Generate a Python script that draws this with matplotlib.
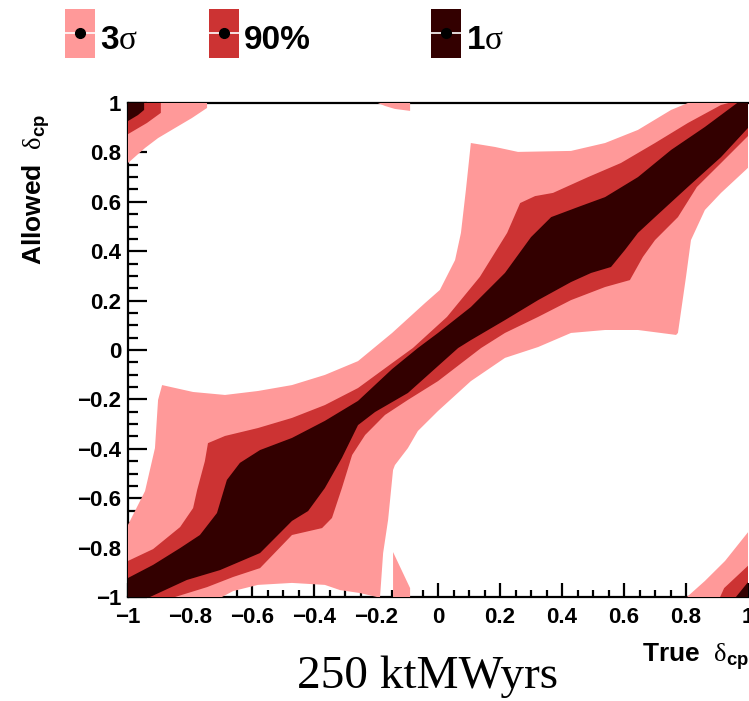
import matplotlib.pyplot as plt
from matplotlib.patches import Polygon, Rectangle
from matplotlib.ticker import MultipleLocator, FixedLocator, FixedFormatter

plt.rcParams['font.family'] = ['Liberation Sans', 'DejaVu Sans']
plt.rcParams['mathtext.fontset'] = 'custom'
plt.rcParams['mathtext.rm'] = 'Liberation Serif'
plt.rcParams['mathtext.bf'] = 'Liberation Sans:bold'

# confidence levels, drawn widest first
level_labels = [r'3$\mathrm{\sigma}$', '90%', r'1$\mathrm{\sigma}$']
level_colors = ['#ff9999', '#cc3333', '#330000']

# contour outlines: (true dcp, allowed dcp)
sigma3_band = [
    (-1.05, -1.05), (-1.05, -0.708), (-1.0, -0.708), (-0.945, -0.571), (-0.913, -0.397),
    (-0.903, -0.202), (-0.890, -0.142), (-0.790, -0.170), (-0.687, -0.182), (-0.581, -0.166),
    (-0.471, -0.142), (-0.365, -0.101), (-0.258, -0.045), (-0.148, 0.069), (-0.042, 0.190),
    (0.006, 0.243), (0.055, 0.364), (0.074, 0.474), (0.090, 0.648), (0.106, 0.838),
    (0.184, 0.822), (0.258, 0.802), (0.429, 0.806), (0.539, 0.838), (0.645, 0.891),
    (0.752, 0.972), (0.806, 1.0), (0.85, 1.05), (1.05, 1.05), (1.05, 0.79),
    (1.003, 0.741), (0.913, 0.636), (0.861, 0.567), (0.816, 0.445), (0.800, 0.296),
    (0.774, 0.069), (0.768, 0.061), (0.645, 0.081), (0.539, 0.081), (0.429, 0.069),
    (0.323, 0.012), (0.216, -0.032), (0.106, -0.126), (0.0, -0.247), (-0.065, -0.328),
    (-0.097, -0.397), (-0.139, -0.466), (-0.145, -0.486), (-0.161, -0.688), (-0.177, -0.822),
    (-0.187, -1.0), (-0.197, -1.0), (-0.252, -0.984), (-0.316, -0.972), (-0.365, -0.951),
    (-0.471, -0.943), (-0.581, -0.951), (-0.661, -0.976), (-0.697, -1.0), (-0.697, -1.05),
]
sigma3_top_left = [(-1.05, 1.05), (-0.745, 1.05), (-0.745, 0.980), (-0.794, 0.939), (-0.848, 0.899),
                   (-0.903, 0.858), (-0.945, 0.818), (-1.0, 0.757), (-1.05, 0.70)]
sigma3_top_mid = [(-0.194, 1.05), (-0.090, 1.05), (-0.090, 0.968), (-0.139, 0.976), (-0.171, 0.988),
                  (-0.194, 1.0)]
sigma3_bottom_mid = [(-0.145, -1.05), (-0.145, -0.818), (-0.090, -0.964), (-0.090, -1.05)]
sigma3_bottom_right = [(0.803, -1.05), (0.803, -1.0), (0.861, -0.935), (0.926, -0.854), (1.003, -0.733),
                       (1.05, -0.68), (1.05, -1.05)]

cl90_band = [
    (-1.05, -1.05), (-1.05, -0.854), (-1.0, -0.854), (-0.919, -0.806), (-0.832, -0.717),
    (-0.790, -0.640), (-0.777, -0.567), (-0.752, -0.450), (-0.742, -0.377), (-0.687, -0.348),
    (-0.581, -0.316), (-0.471, -0.275), (-0.365, -0.223), (-0.258, -0.154), (-0.148, -0.053),
    (-0.081, 0.008), (0.029, 0.134), (0.135, 0.296), (0.223, 0.474), (0.265, 0.595),
    (0.313, 0.623), (0.371, 0.636), (0.484, 0.700), (0.590, 0.757), (0.700, 0.838),
    (0.806, 0.919), (0.913, 0.992), (0.937, 1.0), (0.96, 1.05), (1.05, 1.05),
    (1.05, 0.93), (1.003, 0.870), (0.913, 0.757), (0.835, 0.660), (0.774, 0.538),
    (0.700, 0.445), (0.661, 0.377), (0.619, 0.283), (0.539, 0.255), (0.429, 0.202),
    (0.323, 0.134), (0.216, 0.069), (0.139, 0.008), (0.0, -0.126), (-0.097, -0.202),
    (-0.171, -0.263), (-0.235, -0.344), (-0.277, -0.425), (-0.310, -0.559), (-0.342, -0.680),
    (-0.374, -0.721), (-0.471, -0.749), (-0.574, -0.883), (-0.661, -0.919), (-0.745, -0.960),
    (-0.848, -1.0), (-0.848, -1.05),
]
cl90_top_left = [(-1.05, 1.05), (-0.894, 1.05), (-0.894, 0.960), (-0.939, 0.919), (-1.0, 0.874),
                 (-1.05, 0.84)]
cl90_bottom_right = [(0.910, -1.05), (0.910, -1.0), (0.923, -0.964), (1.003, -0.870), (1.05, -0.81),
                     (1.05, -1.05)]

sigma1_band = [
    (-1.05, -1.05), (-1.05, -0.927), (-1.0, -0.923), (-0.919, -0.870), (-0.832, -0.802),
    (-0.768, -0.749), (-0.713, -0.660), (-0.681, -0.526), (-0.639, -0.457), (-0.574, -0.405),
    (-0.471, -0.356), (-0.365, -0.287), (-0.258, -0.206), (-0.148, -0.077), (-0.065, 0.008),
    (0.0, 0.069), (0.106, 0.174), (0.216, 0.312), (0.300, 0.457), (0.365, 0.538),
    (0.452, 0.579), (0.539, 0.619), (0.645, 0.700), (0.752, 0.810), (0.861, 0.903),
    (0.965, 1.0), (1.0, 1.03), (1.05, 1.05), (1.05, 0.957), (1.003, 0.903),
    (0.913, 0.781), (0.806, 0.660), (0.700, 0.538), (0.645, 0.474), (0.603, 0.405),
    (0.558, 0.336), (0.494, 0.312), (0.429, 0.275), (0.323, 0.202), (0.216, 0.121),
    (0.106, 0.040), (0.065, 0.008), (0.0, -0.065), (-0.097, -0.174), (-0.203, -0.251),
    (-0.258, -0.304), (-0.310, -0.437), (-0.365, -0.559), (-0.419, -0.652), (-0.471, -0.692),
    (-0.574, -0.822), (-0.703, -0.891), (-0.810, -0.931), (-0.929, -1.0), (-0.929, -1.05),
]
sigma1_top_left = [(-1.05, 1.05), (-0.948, 1.05), (-0.948, 0.972), (-0.968, 0.951), (-1.0, 0.927),
                   (-1.05, 0.90)]
sigma1_bottom_right = [(0.961, -1.05), (0.961, -1.0), (0.974, -0.980), (1.003, -0.935), (1.05, -0.88),
                       (1.05, -1.05)]

regions = [
    [sigma3_band, sigma3_top_left, sigma3_top_mid, sigma3_bottom_mid, sigma3_bottom_right],
    [cl90_band, cl90_top_left, cl90_bottom_right],
    [sigma1_band, sigma1_top_left, sigma1_bottom_right],
]

tick_values = [-1, -0.8, -0.6, -0.4, -0.2, 0, 0.2, 0.4, 0.6, 0.8, 1]
tick_labels = ['\u22121', '\u22120.8', '\u22120.6', '\u22120.4', '\u22120.2', '0',
               '0.2', '0.4', '0.6', '0.8', '1']

fig = plt.figure(figsize=(7.49, 7.01), dpi=100)

# overlay in pixel units for the legend strip
lax = fig.add_axes([0, 0, 1, 1])
lax.set_xlim(0, 749)
lax.set_ylim(701, 0)
lax.axis('off')

ax = fig.add_axes([128 / 749, 104 / 701, 620 / 749, 494 / 701])

for polys, color in zip(regions, level_colors):
    for pts in polys:
        ax.add_patch(Polygon(pts, closed=True, facecolor=color, edgecolor='none', zorder=3))

ax.set_xlim(-1, 1)
ax.set_ylim(-1, 1)
for axis in (ax.xaxis, ax.yaxis):
    axis.set_major_locator(FixedLocator(tick_values))
    axis.set_major_formatter(FixedFormatter(tick_labels))
    axis.set_minor_locator(MultipleLocator(0.05))

ax.tick_params(which='both', direction='in', width=1.6, color='black', top=False, right=False)
ax.tick_params(axis='x', which='major', length=10, pad=7, labelsize=16)
ax.tick_params(axis='x', which='minor', length=5)
ax.tick_params(axis='y', which='major', length=13.5, pad=5, labelsize=16)
ax.tick_params(axis='y', which='minor', length=7)
for lbl in ax.get_xticklabels() + ax.get_yticklabels():
    lbl.set_fontweight('bold')
ax.spines['right'].set_visible(False)
for side in ('left', 'bottom', 'top'):
    ax.spines[side].set_linewidth(1.6)

fig.text(42 / 749, (701 - 265) / 701, r'Allowed  $\mathrm{\delta}_{\mathbf{cp}}$',
         rotation=90, rotation_mode='anchor', ha='left', va='baseline',
         fontsize=19, fontweight='bold')
fig.text(642 / 749, (701 - 662) / 701, r'True  $\mathrm{\delta}_{\mathbf{cp}}$',
         ha='left', va='baseline', fontsize=19, fontweight='bold')
fig.text(428 / 749, (701 - 688) / 701, '250 ktMWyrs', family='Liberation Serif',
         fontsize=34, ha='center', va='baseline')

# legend boxes along the top
legend_x = [65, 209, 431]
for x0, color, label in zip(legend_x, level_colors, level_labels):
    lax.add_patch(Rectangle((x0, 9), 30, 49, facecolor=color, edgecolor='none'))
    lax.plot([x0, x0 + 30], [33, 33], color='white', lw=1.2)
    lax.plot([x0 + 15], [33], 'o', color='black', ms=7)
    lax.text(x0 + 35, 49, label, fontsize=24, fontweight='bold', ha='left', va='baseline')

fig.savefig('out.png', dpi=100)
